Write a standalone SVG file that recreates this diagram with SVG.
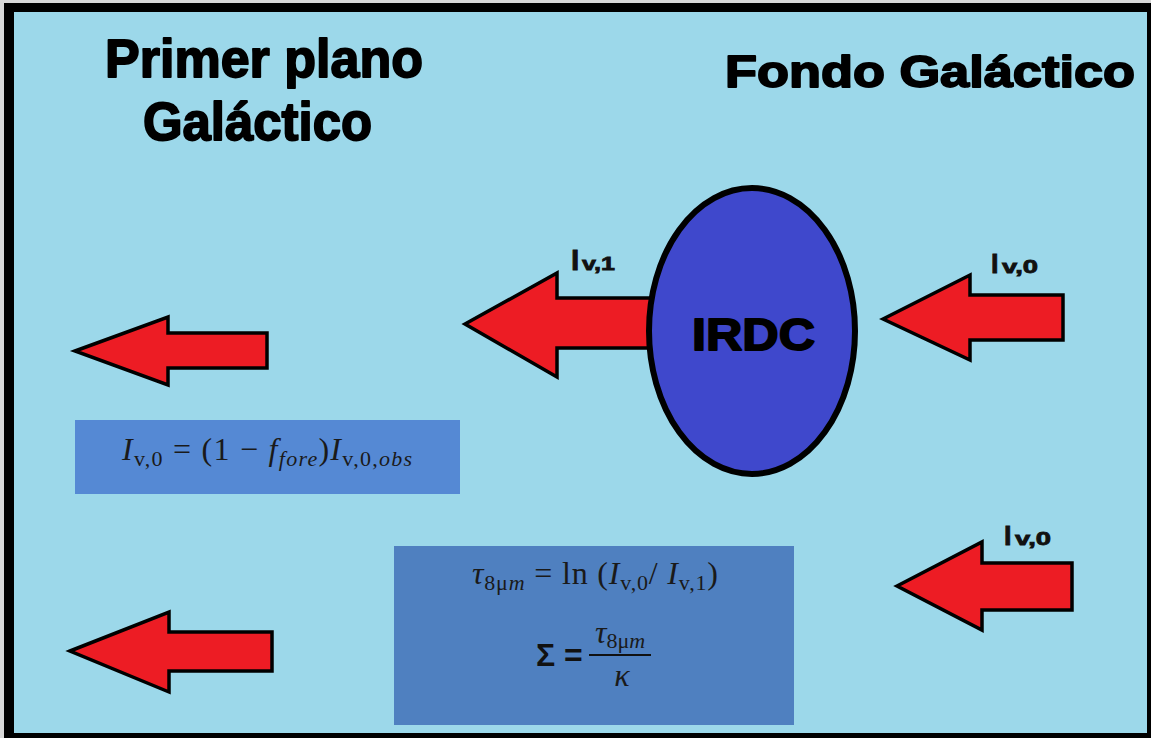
<svg xmlns="http://www.w3.org/2000/svg" width="1151" height="738" viewBox="0 0 1151 738">
<style>
.title{font-family:"Liberation Sans",Arial,sans-serif;font-weight:bold;fill:#000;stroke:#000;stroke-width:1.8;stroke-linejoin:round}
.lbl{font-family:"Liberation Sans",Arial,sans-serif;font-weight:bold;fill:#111;stroke:#111;stroke-width:0.8}
.arrow{fill:#ed1c24;stroke:#000;stroke-width:3.5;stroke-linejoin:miter}
.math{font-family:"Liberation Serif","Times New Roman",serif;fill:#1a1a1a;font-size:32px}
.it{font-style:italic}
.sub{font-size:22px}
</style>
<rect x="0" y="0" width="1151" height="738" fill="#d8d8d8"/>
<rect x="4" y="3" width="1147" height="735" fill="#000"/>
<rect x="14" y="12" width="1133" height="721" fill="#9cd8ea"/>

<g id="titles">
<text class="title" x="105" y="77" font-size="53" textLength="318" lengthAdjust="spacingAndGlyphs">Primer plano</text>
<text class="title" x="143" y="140" font-size="53" textLength="229" lengthAdjust="spacingAndGlyphs">Galáctico</text>
<text class="title" x="725" y="87" font-size="45" textLength="410" lengthAdjust="spacingAndGlyphs">Fondo Galáctico</text>
</g>

<g id="connectors">
<polygon id="arrow-fore-top" class="arrow" points="75,351 168,317 168,333 267,333 267,368 168,368 168,385"/>
<polygon id="arrow-fore-bottom" class="arrow" points="70,651 169,612 169,632 272,632 272,671 169,671 169,692"/>
<polygon id="arrow-out" class="arrow" points="465,324 557,273 557,298 660,298 660,348 557,348 557,377"/>
<polygon id="arrow-in-top" class="arrow" points="883,319 970,275 970,295 1063,295 1063,340 970,340 970,360"/>
<polygon id="arrow-in-bottom" class="arrow" points="897,586 982,542 982,563 1072,563 1072,610 982,610 982,630"/>
</g>

<g id="irdc">
<ellipse cx="752" cy="331" rx="103" ry="143" fill="#3f48cc" stroke="#000" stroke-width="6"/>
<text class="title" x="692" y="350" font-size="45" textLength="123" lengthAdjust="spacingAndGlyphs">IRDC</text>
</g>

<g id="label-i1">
<text class="lbl" x="571" y="270" font-size="30">I</text>
<text class="lbl" x="582" y="270" font-size="19" textLength="33" lengthAdjust="spacingAndGlyphs">v,1</text>
</g>
<g id="label-i0-top">
<text class="lbl" x="991" y="273" font-size="27">I</text>
<text class="lbl" x="1002" y="273" font-size="18" textLength="36" lengthAdjust="spacingAndGlyphs">v,0</text>
</g>
<g id="label-i0-bottom">
<text class="lbl" x="1004" y="545" font-size="27">I</text>
<text class="lbl" x="1015" y="545" font-size="18" textLength="36" lengthAdjust="spacingAndGlyphs">v,0</text>
</g>

<g id="box-foreground">
<rect x="75" y="420" width="385" height="74" fill="#5589d4"/>
<text class="math" x="122" y="460" textLength="290" lengthAdjust="spacing"><tspan class="it">I</tspan><tspan class="sub" dy="6">v,0</tspan><tspan dy="-6"> = (1 −  </tspan><tspan class="it">f</tspan><tspan class="sub it" dy="6">fore</tspan><tspan dy="-6">)</tspan><tspan class="it">I</tspan><tspan class="sub" dy="6">v,0,</tspan><tspan class="sub it">obs</tspan></text>
</g>

<g id="box-formulas">
<rect x="394" y="546" width="400" height="179" fill="#4f80c0"/>
<text class="math" x="472" y="584" textLength="246" lengthAdjust="spacing"><tspan class="it">τ</tspan><tspan class="sub" dy="6">8μ</tspan><tspan class="sub it">m</tspan><tspan dy="-6"> = ln (</tspan><tspan class="it">I</tspan><tspan class="sub" dy="6">v,0</tspan><tspan dy="-6">/ </tspan><tspan class="it">I</tspan><tspan class="sub" dy="6">v,1</tspan><tspan dy="-6">)</tspan></text>
<text x="536" y="666" font-family="'Liberation Sans',Arial,sans-serif" font-size="32" font-weight="bold" fill="#111">Σ =</text>
<text class="math" x="620" y="643" text-anchor="middle"><tspan class="it">τ</tspan><tspan class="sub" dy="5">8μ</tspan><tspan class="sub it">m</tspan></text>
<line x1="589" y1="655" x2="651" y2="655" stroke="#111" stroke-width="2.2"/>
<text class="math it" x="622" y="686" text-anchor="middle">κ</text>
</g>
</svg>
